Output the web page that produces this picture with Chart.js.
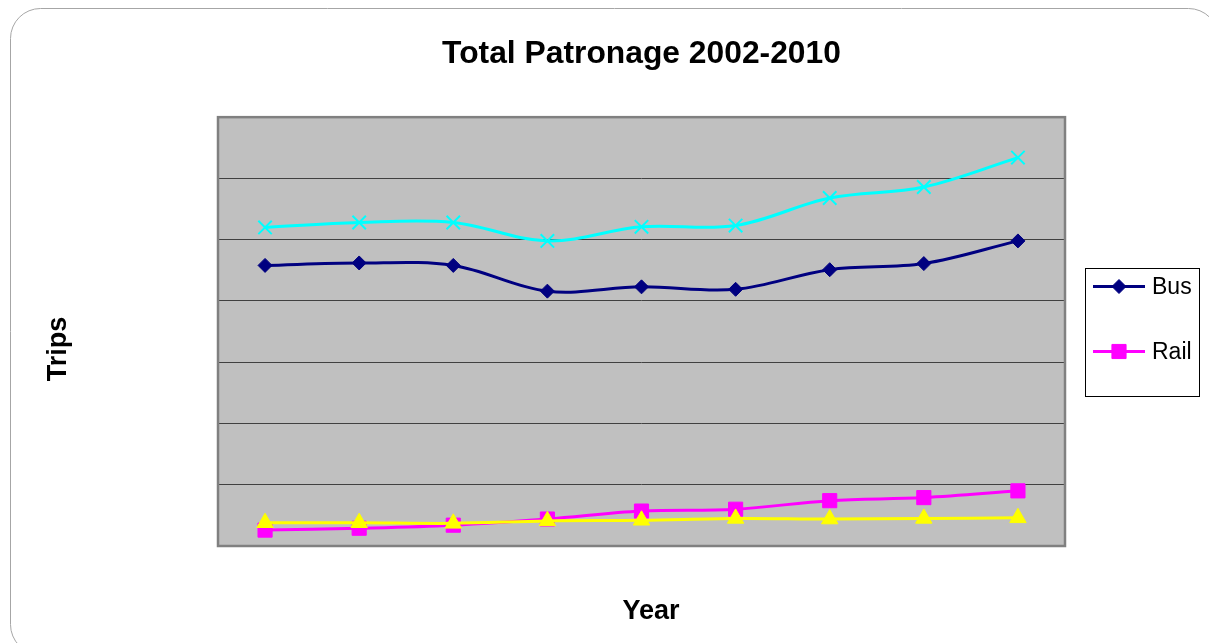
<!DOCTYPE html>
<html>
<head>
<meta charset="utf-8">
<title>Total Patronage 2002-2010</title>
<script src="https://cdn.jsdelivr.net/npm/chart.js@4/dist/chart.umd.min.js"></script>
<style>
  html, body { margin: 0; padding: 0; background: #ffffff; }
  #wrap { width: 1209px; height: 643px; }
</style>
</head>
<body>
<div id="wrap"><canvas id="chart" width="1209" height="643"></canvas></div>
<script>
// Years on the category axis
const years = ['2002', '2003', '2004', '2005', '2006', '2007', '2008', '2009', '2010'];

// Annual trips per mode (millions)
const bus   = [45.8, 46.2, 45.8, 41.6, 42.3, 41.9, 45.1, 46.1, 49.8];
const rail  = [2.6, 2.9, 3.4, 4.4, 5.7, 6.0, 7.4, 7.9, 9.0];
const ferry = [3.8, 3.8, 3.7, 4.1, 4.2, 4.5, 4.4, 4.5, 4.6];
const total = [52.0, 52.8, 52.8, 49.8, 52.1, 52.3, 56.8, 58.6, 63.4];

// Value axis range (gridline every 10)
const yMin = 0;
const yMax = 70;
const yStep = 10;

// Axis titles
const xTitle = 'Year';
const yTitle = 'Trips';

const FONT = "'Liberation Sans', Arial, Helvetica, sans-serif";

// Grey plot background, plot frame, rounded outer frame
const plotFrame = {
  id: 'plotFrame',
  beforeDraw(chart) {
    const { ctx, chartArea: a } = chart;
    ctx.save();
    // outer rounded frame
    ctx.strokeStyle = '#a6a6a6';
    ctx.lineWidth = 1;
    ctx.beginPath();
    ctx.roundRect(10.5, 8.5, 1208, 646, 30);
    ctx.stroke();
    // plot background
    ctx.fillStyle = '#c0c0c0';
    ctx.fillRect(a.left, a.top, a.right - a.left, a.bottom - a.top);
    ctx.restore();
  },
  afterDatasetsDraw(chart) {
    const { ctx, chartArea: a } = chart;
    ctx.save();
    ctx.strokeStyle = '#808080';
    ctx.lineWidth = 2.5;
    ctx.strokeRect(a.left, a.top, a.right - a.left, a.bottom - a.top);
    ctx.restore();
  }
};

// Axis titles placed beside the plot
const axisTitles = {
  id: 'axisTitles',
  afterDraw(chart) {
    const { ctx } = chart;
    ctx.save();
    ctx.fillStyle = '#000000';
    ctx.font = 'bold 27px ' + FONT;
    ctx.textAlign = 'center';
    ctx.textBaseline = 'middle';
    ctx.fillText(xTitle, 651, 612);
    ctx.translate(59, 349);
    ctx.rotate(-Math.PI / 2);
    ctx.fillText(yTitle, 0, 0);
    ctx.restore();
  }
};

// Boxed legend listing the first two series with line + marker samples
const boxLegend = {
  id: 'boxLegend',
  afterDraw(chart) {
    const { ctx } = chart;
    const box = { x: 1085.5, y: 268.5, w: 114, h: 128 };
    ctx.save();
    ctx.fillStyle = '#ffffff';
    ctx.fillRect(box.x, box.y, box.w, box.h);
    ctx.strokeStyle = '#000000';
    ctx.lineWidth = 1;
    ctx.strokeRect(box.x, box.y, box.w, box.h);
    const rows = [286.5, 351.5];
    [0, 1].forEach((di, i) => {
      const ds = chart.data.datasets[di];
      const y = rows[i];
      ctx.strokeStyle = ds.borderColor;
      ctx.lineWidth = 3;
      ctx.beginPath();
      ctx.moveTo(1093, y);
      ctx.lineTo(1145, y);
      ctx.stroke();
      ctx.fillStyle = ds.pointBackgroundColor;
      ctx.strokeStyle = ds.pointBorderColor;
      ctx.lineWidth = 1;
      Chart.helpers.drawPoint(ctx, {
        pointStyle: ds.pointStyle,
        radius: ds.pointRadius,
        borderWidth: 1,
        rotation: 0
      }, 1119, y);
      ctx.fillStyle = '#000000';
      ctx.font = '23px ' + FONT;
      ctx.textBaseline = 'middle';
      ctx.textAlign = 'left';
      ctx.fillText(ds.label, 1152, y + 1);
    });
    ctx.restore();
  }
};

new Chart(document.getElementById('chart'), {
  type: 'line',
  data: {
    labels: years,
    datasets: [
      {
        label: 'Bus',
        data: bus,
        order: 0,
        borderColor: '#000080',
        backgroundColor: '#000080',
        borderWidth: 3,
        pointStyle: 'rectRot',
        pointRadius: 7,
        pointBackgroundColor: '#000080',
        pointBorderColor: '#000080',
        pointBorderWidth: 1
      },
      {
        label: 'Rail',
        data: rail,
        order: 2,
        borderColor: '#ff00ff',
        backgroundColor: '#ff00ff',
        borderWidth: 3,
        pointStyle: 'rect',
        pointRadius: 10,
        pointBackgroundColor: '#ff00ff',
        pointBorderColor: '#ff00ff',
        pointBorderWidth: 1
      },
      {
        label: 'Ferry',
        data: ferry,
        order: 1,
        borderColor: '#ffff00',
        backgroundColor: '#ffff00',
        borderWidth: 3,
        pointStyle: 'triangle',
        pointRadius: 9.5,
        pointBackgroundColor: '#ffff00',
        pointBorderColor: '#ffff00',
        pointBorderWidth: 1
      },
      {
        label: 'Total',
        data: total,
        order: 3,
        borderColor: '#00ffff',
        backgroundColor: '#00ffff',
        borderWidth: 3,
        pointStyle: 'crossRot',
        pointRadius: 9.5,
        pointBackgroundColor: '#00ffff',
        pointBorderColor: '#00ffff',
        pointBorderWidth: 2
      }
    ]
  },
  options: {
    responsive: false,
    animation: false,
    devicePixelRatio: 1,
    events: [],
    elements: {
      line: { tension: 0.35, fill: false }
    },
    layout: {
      padding: { left: 218, right: 144, top: 0, bottom: 97 }
    },
    plugins: {
      legend: { display: false },
      tooltip: { enabled: false },
      title: {
        display: true,
        text: 'Total Patronage 2002-2010',
        fullSize: false,
        color: '#000000',
        font: { family: FONT, size: 31.8, weight: 'bold' },
        padding: { top: 35.4, bottom: 43.6 }
      }
    },
    scales: {
      x: {
        type: 'category',
        offset: true,
        grid: { display: false, drawTicks: false },
        border: { display: false },
        ticks: { display: false },
        title: { display: false }
      },
      y: {
        min: yMin,
        max: yMax,
        ticks: { display: false, stepSize: yStep },
        grid: { color: '#404040', lineWidth: 1, drawTicks: false },
        border: { display: false },
        title: { display: false }
      }
    }
  },
  plugins: [plotFrame, axisTitles, boxLegend]
});
</script>
</body>
</html>
